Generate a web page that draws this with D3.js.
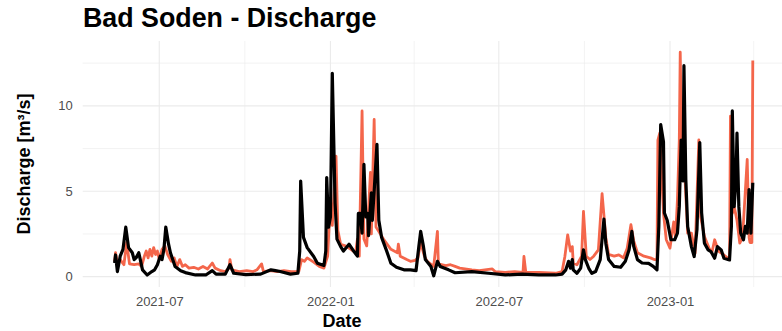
<!DOCTYPE html>
<html>
<head>
<meta charset="utf-8">
<style>
body { margin: 0; background: #fff; }
svg { display: block; font-family: "Liberation Sans", Arial, sans-serif; }
.grid line { stroke: #ebebeb; }
.axis text { fill: #4d4d4d; font-size: 13px; }
.axis path, .axis line { display: none; }
.title { font-weight: bold; fill: #000; }
</style>
</head>
<body>
<script src="https://d3js.org/d3.v7.min.js"></script>
<script>

var obsDates = ["2021-05-14","2021-05-15","2021-05-17","2021-05-20","2021-05-24","2021-05-27","2021-05-30","2021-06-04","2021-06-09","2021-06-12",
  "2021-06-15","2021-06-17","2021-06-19","2021-06-21","2021-06-23","2021-06-25","2021-06-27","2021-06-29","2021-07-01","2021-07-04",
  "2021-07-07","2021-07-10","2021-07-14","2021-07-17","2021-07-20","2021-07-23","2021-07-26","2021-07-29","2021-08-02","2021-08-07",
  "2021-08-12","2021-08-17","2021-08-22","2021-08-27","2021-08-30","2021-09-05","2021-09-10","2021-09-14","2021-09-15","2021-09-17",
  "2021-09-25","2021-10-03","2021-10-10","2021-10-14","2021-10-19","2021-10-21","2021-10-28","2021-11-05","2021-11-12","2021-11-20",
  "2021-11-28","2021-12-01","2021-12-04","2021-12-07","2021-12-14","2021-12-20","2021-12-25","2021-12-29","2022-01-01","2022-01-03",
  "2022-01-04","2022-01-07","2022-01-09","2022-01-12","2022-01-17","2022-01-23","2022-01-28","2022-01-30","2022-02-01","2022-02-04",
  "2022-02-06","2022-02-09","2022-02-13","2022-02-14","2022-02-17","2022-02-19","2022-02-27","2022-03-07","2022-03-14","2022-03-15",
  "2022-03-17","2022-03-24","2022-03-28","2022-04-02","2022-04-05","2022-04-08","2022-04-12","2022-04-15","2022-04-22","2022-04-26",
  "2022-04-27","2022-05-05","2022-05-10","2022-05-15","2022-05-20","2022-06-02","2022-06-10","2022-06-24","2022-06-27","2022-07-08",
  "2022-07-18","2022-07-27","2022-07-28","2022-07-30","2022-08-13","2022-08-31","2022-09-07","2022-09-10","2022-09-13","2022-09-16",
  "2022-09-18","2022-09-19","2022-09-23","2022-09-28","2022-09-30","2022-10-03","2022-10-07","2022-10-11","2022-10-16","2022-10-20",
  "2022-10-24","2022-10-27","2022-11-02","2022-11-07","2022-11-12","2022-11-16","2022-11-20","2022-11-23","2022-11-27","2022-12-04",
  "2022-12-11","2022-12-15","2022-12-18","2022-12-19","2022-12-21","2022-12-25","2022-12-28","2023-01-01","2023-01-05","2023-01-07",
  "2023-01-09","2023-01-11","2023-01-12","2023-01-14","2023-01-17","2023-01-20","2023-01-24","2023-01-28","2023-02-01","2023-02-03",
  "2023-02-07","2023-02-12","2023-02-15","2023-02-18","2023-02-22","2023-02-28","2023-03-06","2023-03-07","2023-03-09","2023-03-11",
  "2023-03-14","2023-03-17","2023-03-20","2023-03-25","2023-03-27","2023-03-28","2023-03-30","2023-03-31"];
var obsQ = [0.9,1.4,0.8,1.0,0.7,2.0,0.75,0.7,0.75,0.6,
  1.2,1.5,1.1,1.6,1.2,1.7,1.3,1.5,1.0,1.6,
  1.8,1.3,0.9,1.1,0.6,1.0,0.6,0.7,0.5,0.55,
  0.45,0.6,0.45,0.8,0.5,0.35,0.3,0.5,1.0,0.4,
  0.3,0.35,0.3,0.4,0.75,0.3,0.35,0.3,0.35,0.3,
  0.3,1.0,0.9,1.1,0.85,0.6,0.5,1.2,4.5,3.0,
  4.0,7.06,2.7,1.9,1.8,1.6,1.4,2.2,1.2,9.7,
  2.2,1.8,6.1,2.5,9.2,2.9,2.2,1.6,1.4,1.9,
  1.2,1.0,0.9,0.95,1.1,2.0,1.2,0.9,0.6,2.65,
  0.75,0.65,0.7,0.6,0.5,0.4,0.35,0.45,0.3,0.25,
  0.3,0.25,1.18,0.25,0.25,0.2,0.3,1.18,2.45,1.5,
  1.76,0.8,0.7,1.2,3.82,1.2,1.0,1.2,1.57,4.86,
  2.3,1.3,1.2,1.28,1.1,1.67,3.04,2.1,1.4,1.2,
  1.1,1.0,1.0,8.0,8.4,3.7,2.16,1.67,3.2,2.3,
  4.5,8.0,13.14,6.0,5.9,2.55,2.55,1.37,8.0,3.5,
  2.35,1.67,1.4,2.16,1.5,1.27,1.0,9.4,3.7,4.1,
  3.3,1.96,2.3,6.86,2.3,2.0,2.0,12.65];

// simulated discharge (black)
var simDates = ["2021-05-14","2021-05-15","2021-05-17","2021-05-20","2021-05-23","2021-05-26","2021-05-29","2021-06-02","2021-06-04","2021-06-06",
  "2021-06-09","2021-06-13","2021-06-18","2021-06-23","2021-06-26","2021-06-29","2021-07-02","2021-07-04","2021-07-06","2021-07-08",
  "2021-07-11","2021-07-13","2021-07-18","2021-07-24","2021-07-29","2021-08-09","2021-08-20","2021-08-27","2021-08-31","2021-09-10",
  "2021-09-15","2021-09-19","2021-10-02","2021-10-18","2021-10-29","2021-11-03","2021-11-08","2021-11-19","2021-11-27","2021-11-29",
  "2021-11-30","2021-12-03","2021-12-07","2021-12-14","2021-12-18","2021-12-25","2021-12-27","2021-12-28","2021-12-30","2022-01-01",
  "2022-01-03","2022-01-06","2022-01-08","2022-01-12","2022-01-15","2022-01-21","2022-01-26","2022-01-30","2022-01-31","2022-02-02",
  "2022-02-04","2022-02-06","2022-02-08","2022-02-10","2022-02-11","2022-02-14","2022-02-15","2022-02-17","2022-02-20","2022-02-22",
  "2022-02-25","2022-03-02","2022-03-07","2022-03-13","2022-03-21","2022-03-28","2022-04-03","2022-04-06","2022-04-08","2022-04-11",
  "2022-04-13","2022-04-19","2022-04-22","2022-04-26","2022-04-29","2022-05-08","2022-05-15","2022-06-02","2022-06-20","2022-07-08",
  "2022-07-26","2022-08-13","2022-08-31","2022-09-07","2022-09-11","2022-09-14","2022-09-16","2022-09-18","2022-09-19","2022-09-23",
  "2022-09-27","2022-09-30","2022-10-02","2022-10-06","2022-10-09","2022-10-13","2022-10-18","2022-10-22","2022-10-24","2022-10-27",
  "2022-11-02","2022-11-09","2022-11-14","2022-11-18","2022-11-21","2022-11-23","2022-11-27","2022-12-02","2022-12-09","2022-12-14",
  "2022-12-18","2022-12-20","2022-12-22","2022-12-25","2022-12-26","2022-12-29","2023-01-02","2023-01-06","2023-01-09","2023-01-11",
  "2023-01-13","2023-01-15","2023-01-16","2023-01-18","2023-01-20","2023-01-24","2023-01-27","2023-01-30","2023-02-02","2023-02-04",
  "2023-02-07","2023-02-11","2023-02-14","2023-02-18","2023-02-21","2023-02-25","2023-02-28","2023-03-06","2023-03-08","2023-03-09",
  "2023-03-11","2023-03-13","2023-03-14","2023-03-16","2023-03-18","2023-03-21","2023-03-23","2023-03-25","2023-03-27","2023-03-29",
  "2023-03-31"];
var simQ = [0.8,1.27,0.3,1.2,1.6,2.9,1.7,1.4,1.0,1.1,
  1.4,0.4,0.1,0.3,0.4,0.7,1.2,1.0,1.6,2.9,
  1.9,1.4,0.6,0.35,0.24,0.1,0.1,0.35,0.15,0.15,
  0.7,0.2,0.12,0.15,0.4,0.35,0.3,0.15,0.2,1.5,
  5.6,2.3,1.7,1.18,0.79,0.65,1.5,5.8,2.9,3.5,
  11.9,4.3,2.2,1.76,1.5,1.9,1.5,1.2,3.7,3.7,
  2.55,6.57,3.5,3.7,2.4,4.9,3.3,5.0,7.75,3.3,
  2.3,1.57,0.79,0.55,0.4,0.4,0.35,1.76,2.65,1.76,
  1.0,0.6,0.05,0.9,0.6,0.4,0.23,0.3,0.2,0.1,
  0.15,0.1,0.1,0.15,0.4,0.9,0.5,1.0,0.4,0.2,
  0.5,1.57,1.0,0.45,0.2,0.3,1.0,3.37,1.96,1.0,
  0.6,0.55,0.9,1.57,2.65,1.77,1.0,0.8,0.78,0.6,
  0.4,2.94,8.9,7.9,3.73,3.3,2.16,2.16,2.55,4.1,
  8.0,5.6,12.35,5.7,2.94,1.76,1.18,2.75,7.85,3.73,
  1.96,1.57,1.47,1.08,1.76,1.57,1.08,0.98,2.94,9.7,
  4.1,5.7,8.4,4.1,2.55,2.16,2.94,2.55,5.1,2.55,
  5.5];

// axis breaks
var xBreaks = ["2021-07-01","2022-01-01","2022-07-01","2023-01-01"];
var xMinor = ["2021-10-01","2022-04-01","2022-10-01","2023-04-01"];
var yBreaks = [0, 5, 10];
var yMinor = [2.5, 7.5, 12.5];

var parse = d3.timeParse("%Y-%m-%d");
var obs = obsDates.map(function(d, i) { return {date: parse(d), q: obsQ[i]}; });
var sim = simDates.map(function(d, i) { return {date: parse(d), q: simQ[i]}; });

var w = 782, h = 331,
    panel = {left: 82.7, right: 784.7, top: 41, bottom: 287};

var svg = d3.select("body")
    .append("svg")
    .attr("width", w)
    .attr("height", h);

// scales with 5% padding like ggplot
var all = obs.concat(sim);
var dExt = d3.extent(all, function(d) { return d.date; }),
    dPad = (dExt[1] - dExt[0]) * 0.05;
var xScale = d3.scaleTime()
    .domain([new Date(+dExt[0] - dPad), new Date(+dExt[1] + dPad)])
    .range([panel.left, panel.right]);

var qExt = d3.extent(all, function(d) { return d.q; }),
    qPad = (qExt[1] - qExt[0]) * 0.05;
var yScale = d3.scaleLinear()
    .domain([qExt[0] - qPad, qExt[1] + qPad])
    .range([panel.bottom, panel.top]);

// grid lines
var grid = svg.append("g").attr("class", "grid");

grid.selectAll(".ymin").data(yMinor).enter().append("line")
    .attr("x1", panel.left).attr("x2", w)
    .attr("y1", function(d) { return yScale(d); })
    .attr("y2", function(d) { return yScale(d); })
    .attr("stroke-width", 0.6);

grid.selectAll(".xmin").data(xMinor.map(parse)).enter().append("line")
    .attr("x1", function(d) { return xScale(d); })
    .attr("x2", function(d) { return xScale(d); })
    .attr("y1", panel.top).attr("y2", panel.bottom)
    .attr("stroke-width", 0.6);

grid.selectAll(".ymaj").data(yBreaks).enter().append("line")
    .attr("x1", panel.left).attr("x2", w)
    .attr("y1", function(d) { return yScale(d); })
    .attr("y2", function(d) { return yScale(d); })
    .attr("stroke-width", 1.1);

grid.selectAll(".xmaj").data(xBreaks.map(parse)).enter().append("line")
    .attr("x1", function(d) { return xScale(d); })
    .attr("x2", function(d) { return xScale(d); })
    .attr("y1", panel.top).attr("y2", panel.bottom)
    .attr("stroke-width", 1.1);

// axes
svg.append("g")
    .attr("class", "axis")
    .attr("transform", "translate(0," + panel.bottom + ")")
    .call(d3.axisBottom(xScale)
        .tickValues(xBreaks.map(parse))
        .tickFormat(d3.timeFormat("%Y-%m"))
        .tickSize(0)
        .tickPadding(10));

svg.append("g")
    .attr("class", "axis")
    .attr("transform", "translate(" + panel.left + ",0)")
    .call(d3.axisLeft(yScale)
        .tickValues(yBreaks)
        .tickSize(0)
        .tickPadding(10));

// lines
var line = d3.line()
    .x(function(d) { return xScale(d.date); })
    .y(function(d) { return yScale(d.q); });

svg.append("path")
    .datum(obs)
    .attr("d", line)
    .attr("fill", "none")
    .attr("stroke", "#f4664b")
    .attr("stroke-width", 2.8)
    .attr("stroke-linejoin", "round");

svg.append("path")
    .datum(sim)
    .attr("d", line)
    .attr("fill", "none")
    .attr("stroke", "#000")
    .attr("stroke-width", 3.2)
    .attr("stroke-linejoin", "round");

// titles
svg.append("text")
    .attr("class", "title")
    .attr("x", 83)
    .attr("y", 27)
    .style("font-size", "26.8px")
    .text("Bad Soden - Discharge");

svg.append("text")
    .attr("class", "title")
    .attr("transform", "translate(30," + ((panel.top + panel.bottom) / 2) + ") rotate(-90)")
    .attr("text-anchor", "middle")
    .style("font-size", "18px")
    .text("Discharge [m³/s]");

svg.append("text")
    .attr("class", "title")
    .attr("x", 342)
    .attr("y", 327)
    .attr("text-anchor", "middle")
    .style("font-size", "18px")
    .text("Date");

</script>
</body>
</html>
